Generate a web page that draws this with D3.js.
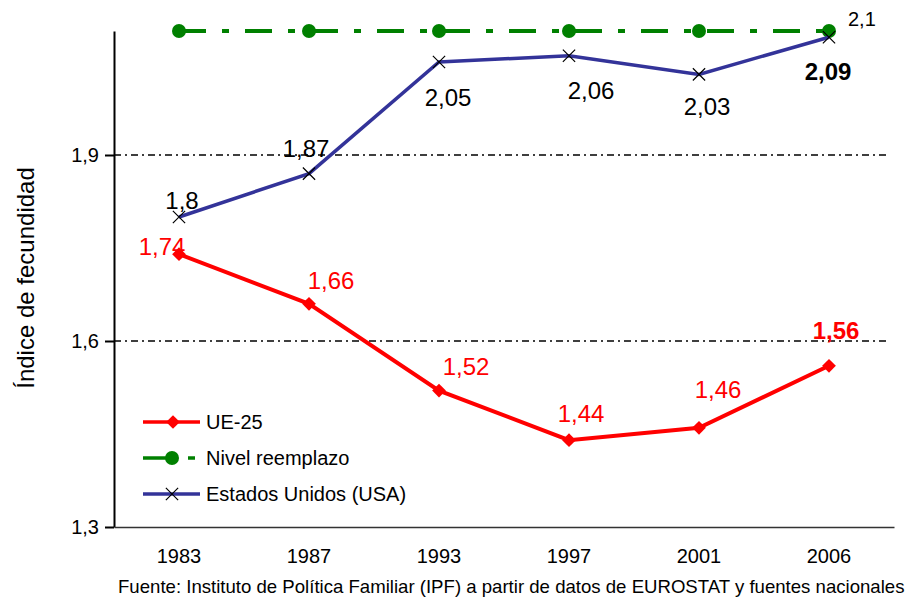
<!DOCTYPE html>
<html>
<head>
<meta charset="utf-8">
<script src="https://cdn.jsdelivr.net/npm/d3@7"></script>
<style>
  body { margin: 0; background: #fff; }
  svg { font-family: Arial, "Liberation Sans", sans-serif; }
</style>
</head>
<body>
<div id="chart"></div>
<script>
const years = ["1983", "1987", "1993", "1997", "2001", "2006"]
const ue25 = [1.74, 1.66, 1.52, 1.44, 1.46, 1.56]
const reemplazo = [2.1, 2.1, 2.1, 2.1, 2.1, 2.1]
const usa = [1.8, 1.87, 2.05, 2.06, 2.03, 2.09]
const yTicks = [1.3, 1.6, 1.9]

// label nudges, in pixels, from each point
const ueLabelOff = [[-17, -8], [22, -23], [27, -24], [12, -27], [19, -38], [7, -35]]
const usaLabelOff = [[3, -16], [-3, -25], [9, 36], [22, 35], [8, 32], [-1, 34]]

const width = 910, height = 597

const svg = d3.select("#chart").append("svg")
  .attr("width", width)
  .attr("height", height)

const x = d3.scaleBand().domain(years).range([114, 894])
const y = d3.scaleLinear().domain([1.3, 2.1]).range([527, 31])
const cx = d => x(d) + x.bandwidth() / 2
const fmt = v => String(v).replace(".", ",")

// grid lines
svg.selectAll(".grid")
  .data(yTicks.filter(t => t > 1.3))
  .enter().append("line")
  .attr("x1", 114).attr("x2", 890)
  .attr("y1", d => y(d)).attr("y2", d => y(d))
  .attr("stroke", "#000")
  .attr("stroke-width", 1.6)
  .attr("stroke-dasharray", "7,4,2,4")

// y axis
const yAxis = svg.append("g")
  .attr("transform", "translate(114,0)")
  .call(d3.axisLeft(y).tickValues(yTicks).tickFormat(fmt).tickSize(9).tickSizeOuter(0))
yAxis.attr("font-family", null)
yAxis.select(".domain").attr("stroke-width", 2)
yAxis.selectAll(".tick line").attr("stroke-width", 2)
yAxis.selectAll("text").attr("font-size", 20).attr("fill", "#000").attr("x", -15)

// x axis
const xAxis = svg.append("g")
  .attr("transform", "translate(0,527)")
  .call(d3.axisBottom(x).tickSize(0).tickSizeOuter(0))
xAxis.attr("font-family", null)
xAxis.select(".domain").attr("stroke-width", 1.5).attr("stroke", "#333")
xAxis.selectAll("text").attr("font-size", 20).attr("fill", "#000").attr("y", 22)

svg.append("text")
  .attr("transform", "translate(34,278) rotate(-90)")
  .attr("text-anchor", "middle")
  .attr("font-size", 24)
  .text("Índice de fecundidad")

const line = d3.line().x((d, i) => cx(years[i])).y(d => y(d))

// replacement level
svg.append("path")
  .datum(reemplazo)
  .attr("d", line)
  .attr("fill", "none")
  .attr("stroke", "#008000")
  .attr("stroke-width", 4)
  .attr("stroke-dasharray", "27,16,7,16")
svg.selectAll(".rp")
  .data(reemplazo)
  .enter().append("circle")
  .attr("cx", (d, i) => cx(years[i]))
  .attr("cy", d => y(d))
  .attr("r", 7)
  .attr("fill", "#008000")
svg.append("text")
  .attr("x", cx("2006") + 19).attr("y", y(2.1) - 5)
  .attr("font-size", 20)
  .text(fmt(reemplazo[reemplazo.length - 1]))

// UE-25
svg.append("path")
  .datum(ue25)
  .attr("d", line)
  .attr("fill", "none")
  .attr("stroke", "#ff0000")
  .attr("stroke-width", 4)
svg.selectAll(".ue")
  .data(ue25)
  .enter().append("path")
  .attr("d", d3.symbol().type(d3.symbolDiamond2).size(120))
  .attr("transform", (d, i) => `translate(${cx(years[i])},${y(d)})`)
  .attr("fill", "#ff0000")
svg.selectAll(".uelab")
  .data(ue25)
  .enter().append("text")
  .attr("x", (d, i) => cx(years[i]) + ueLabelOff[i][0])
  .attr("y", (d, i) => y(d) + ueLabelOff[i][1])
  .attr("dy", "0.35em")
  .attr("text-anchor", "middle")
  .attr("font-size", 24)
  .attr("font-weight", (d, i) => i === ue25.length - 1 ? "bold" : "normal")
  .attr("fill", "#ff0000")
  .text(fmt)

// USA
svg.append("path")
  .datum(usa)
  .attr("d", line)
  .attr("fill", "none")
  .attr("stroke", "#333399")
  .attr("stroke-width", 3.5)
svg.selectAll(".us")
  .data(usa)
  .enter().append("path")
  .attr("d", d3.symbol().type(d3.symbolX).size(100))
  .attr("transform", (d, i) => `translate(${cx(years[i])},${y(d)})`)
  .attr("fill", "none")
  .attr("stroke", "#000")
  .attr("stroke-width", 1.2)
svg.selectAll(".uslab")
  .data(usa)
  .enter().append("text")
  .attr("x", (d, i) => cx(years[i]) + usaLabelOff[i][0])
  .attr("y", (d, i) => y(d) + usaLabelOff[i][1])
  .attr("dy", "0.35em")
  .attr("text-anchor", "middle")
  .attr("font-size", 24)
  .attr("font-weight", (d, i) => i === usa.length - 1 ? "bold" : "normal")
  .text(fmt)

// legend
const legend = [
  { name: "UE-25", color: "#ff0000", mark: "diamond" },
  { name: "Nivel reemplazo", color: "#008000", mark: "circle" },
  { name: "Estados Unidos (USA)", color: "#333399", mark: "x" }
]
const lg = svg.selectAll(".lg")
  .data(legend)
  .enter().append("g")
  .attr("transform", (d, i) => `translate(143,${422 + i * 36})`)
lg.append("line")
  .attr("x1", 0).attr("x2", d => d.mark === "circle" ? 34 : 57)
  .attr("stroke", d => d.color)
  .attr("stroke-width", 3.5)
lg.filter(d => d.mark === "circle").append("line")
  .attr("x1", 45).attr("x2", 52)
  .attr("stroke", d => d.color).attr("stroke-width", 3.5)
lg.filter(d => d.mark === "circle").append("circle")
  .attr("cx", 29).attr("r", 7).attr("fill", d => d.color)
lg.filter(d => d.mark === "diamond").append("path")
  .attr("d", d3.symbol().type(d3.symbolDiamond2).size(120))
  .attr("transform", "translate(30,0)")
  .attr("fill", d => d.color)
lg.filter(d => d.mark === "x").append("path")
  .attr("d", d3.symbol().type(d3.symbolX).size(100))
  .attr("transform", "translate(29,0)")
  .attr("fill", "none").attr("stroke", "#000").attr("stroke-width", 1.2)
lg.append("text")
  .attr("x", 63).attr("dy", "0.35em")
  .attr("font-size", 20)
  .text(d => d.name)

svg.append("text")
  .attr("x", 118).attr("y", 593)
  .attr("font-size", 18.6)
  .text("Fuente: Instituto de Política Familiar (IPF) a partir de datos de EUROSTAT y fuentes nacionales")
</script>
</body>
</html>
